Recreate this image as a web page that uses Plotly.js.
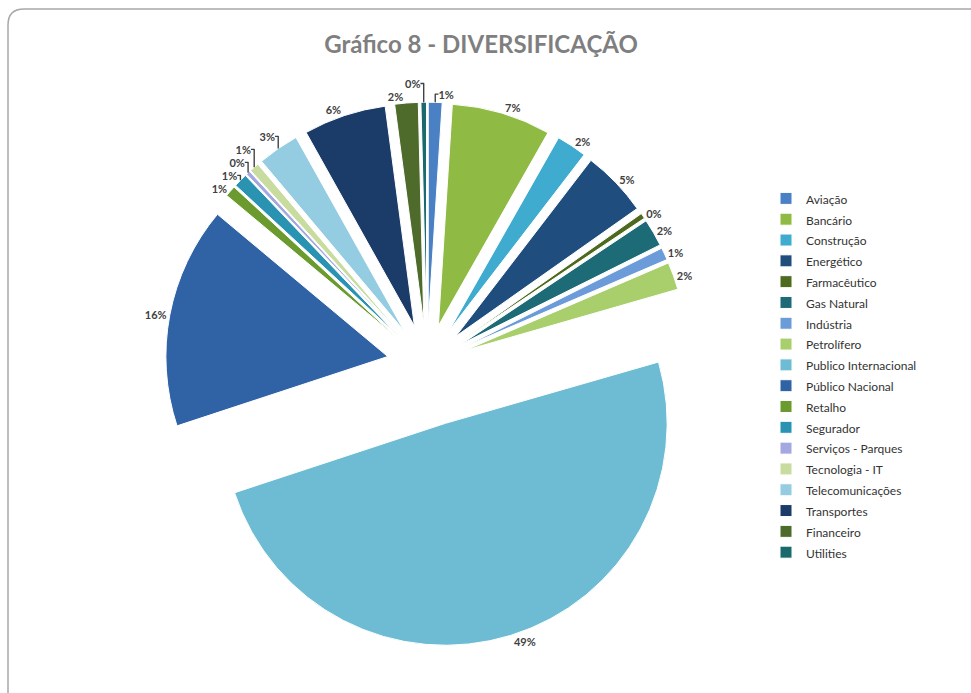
<!DOCTYPE html>
<html>
<head>
<meta charset="utf-8">
<script src="https://cdn.plot.ly/plotly-3.0.1.min.js"></script>
<style>
  html, body { margin: 0; padding: 0; background: #ffffff; }
  #chart { width: 971px; height: 693px; }
</style>
</head>
<body>
<div id="chart"></div>
<script>
// ---- Data ----
const categories = [
  "Aviação", "Bancário", "Construção", "Energético", "Farmacêutico",
  "Gas Natural", "Indústria", "Petrolífero", "Publico Internacional",
  "Público Nacional", "Retalho", "Segurador", "Serviços - Parques",
  "Tecnologia - IT", "Telecomunicações", "Transportes", "Financeiro", "Utilities"
];
const values = [
  1.0, 7.2, 2.2, 4.8, 0.4,
  2.0, 0.9, 2.0, 49.3,
  16.1, 0.8, 1.0, 0.3,
  0.7, 3.0, 6.0, 1.7, 0.4
];
const chartTitle = "Gráfico 8 - DIVERSIFICAÇÃO";

// ---- Styles ----
const sliceColors = [
  "#4a80c4", "#8fbb45", "#3fabcf", "#1f4d7e", "#4e6a1f",
  "#1d6b76", "#6c9bd9", "#a8cf6c", "#6dbcd3",
  "#2f63a5", "#6b9b2e", "#2993b1", "#a4a8e0",
  "#c8dca0", "#94cde1", "#1b3b68", "#4e6b2b", "#1a6a6d"
];
const bigSlice = "Publico Internacional";
const pulls = categories.map(c => c === bigSlice ? 0.28 : 0.18);
const legendLabels = categories.map(c => '<span style="font-size:12px">' + c + '</span>');

const W = 971, H = 693;
const px = v => v / W;
const py = v => 1 - v / H;

const trace = {
  type: "pie",
  labels: legendLabels,
  values: values,
  sort: false,
  direction: "clockwise",
  rotation: 0,
  pull: pulls,
  marker: { colors: sliceColors, line: { color: "#ffffff", width: 1 } },
  textinfo: "percent",
  texttemplate: "%{percent:.0%}",
  textposition: "outside",
  outsidetextfont: { family: "Lato, 'Open Sans', sans-serif", size: 11, color: "#404040", weight: "bold" },
  hoverinfo: "label+percent",
  domain: { x: [px(143), px(711)], y: [py(648), py(80)] }
};

const layout = {
  width: W, height: H,
  margin: { l: 0, r: 0, t: 0, b: 0 },
  paper_bgcolor: "#ffffff",
  font: { family: "Lato, 'Open Sans', sans-serif", color: "#404040" },
  title: {
    text: chartTitle,
    x: px(481), xanchor: "center", xref: "paper",
    y: py(45), yanchor: "middle", yref: "container",
    font: { family: "Lato, 'Open Sans', sans-serif", size: 24, color: "#7f7f7f", weight: "bold" }
  },
  showlegend: true,
  legend: {
    x: px(766), xanchor: "left",
    y: py(183), yanchor: "top",
    font: { family: "Lato, 'Open Sans', sans-serif", size: 13.7, color: "#333333" },
    bgcolor: "rgba(0,0,0,0)",
    traceorder: "normal"
  },
  shapes: [{
    type: "path", xref: "paper", yref: "paper",
    path: "M " + px(8) + "," + py(720) + " L " + px(8) + "," + py(25) +
          " Q " + px(8) + "," + py(9) + " " + px(24) + "," + py(9) +
          " L " + px(1000) + "," + py(9),
    line: { color: "#a8a8a8", width: 1.5 }
  }]
};

Plotly.newPlot("chart", [trace], layout, { displayModeBar: false, staticPlot: true });
</script>
</body>
</html>
